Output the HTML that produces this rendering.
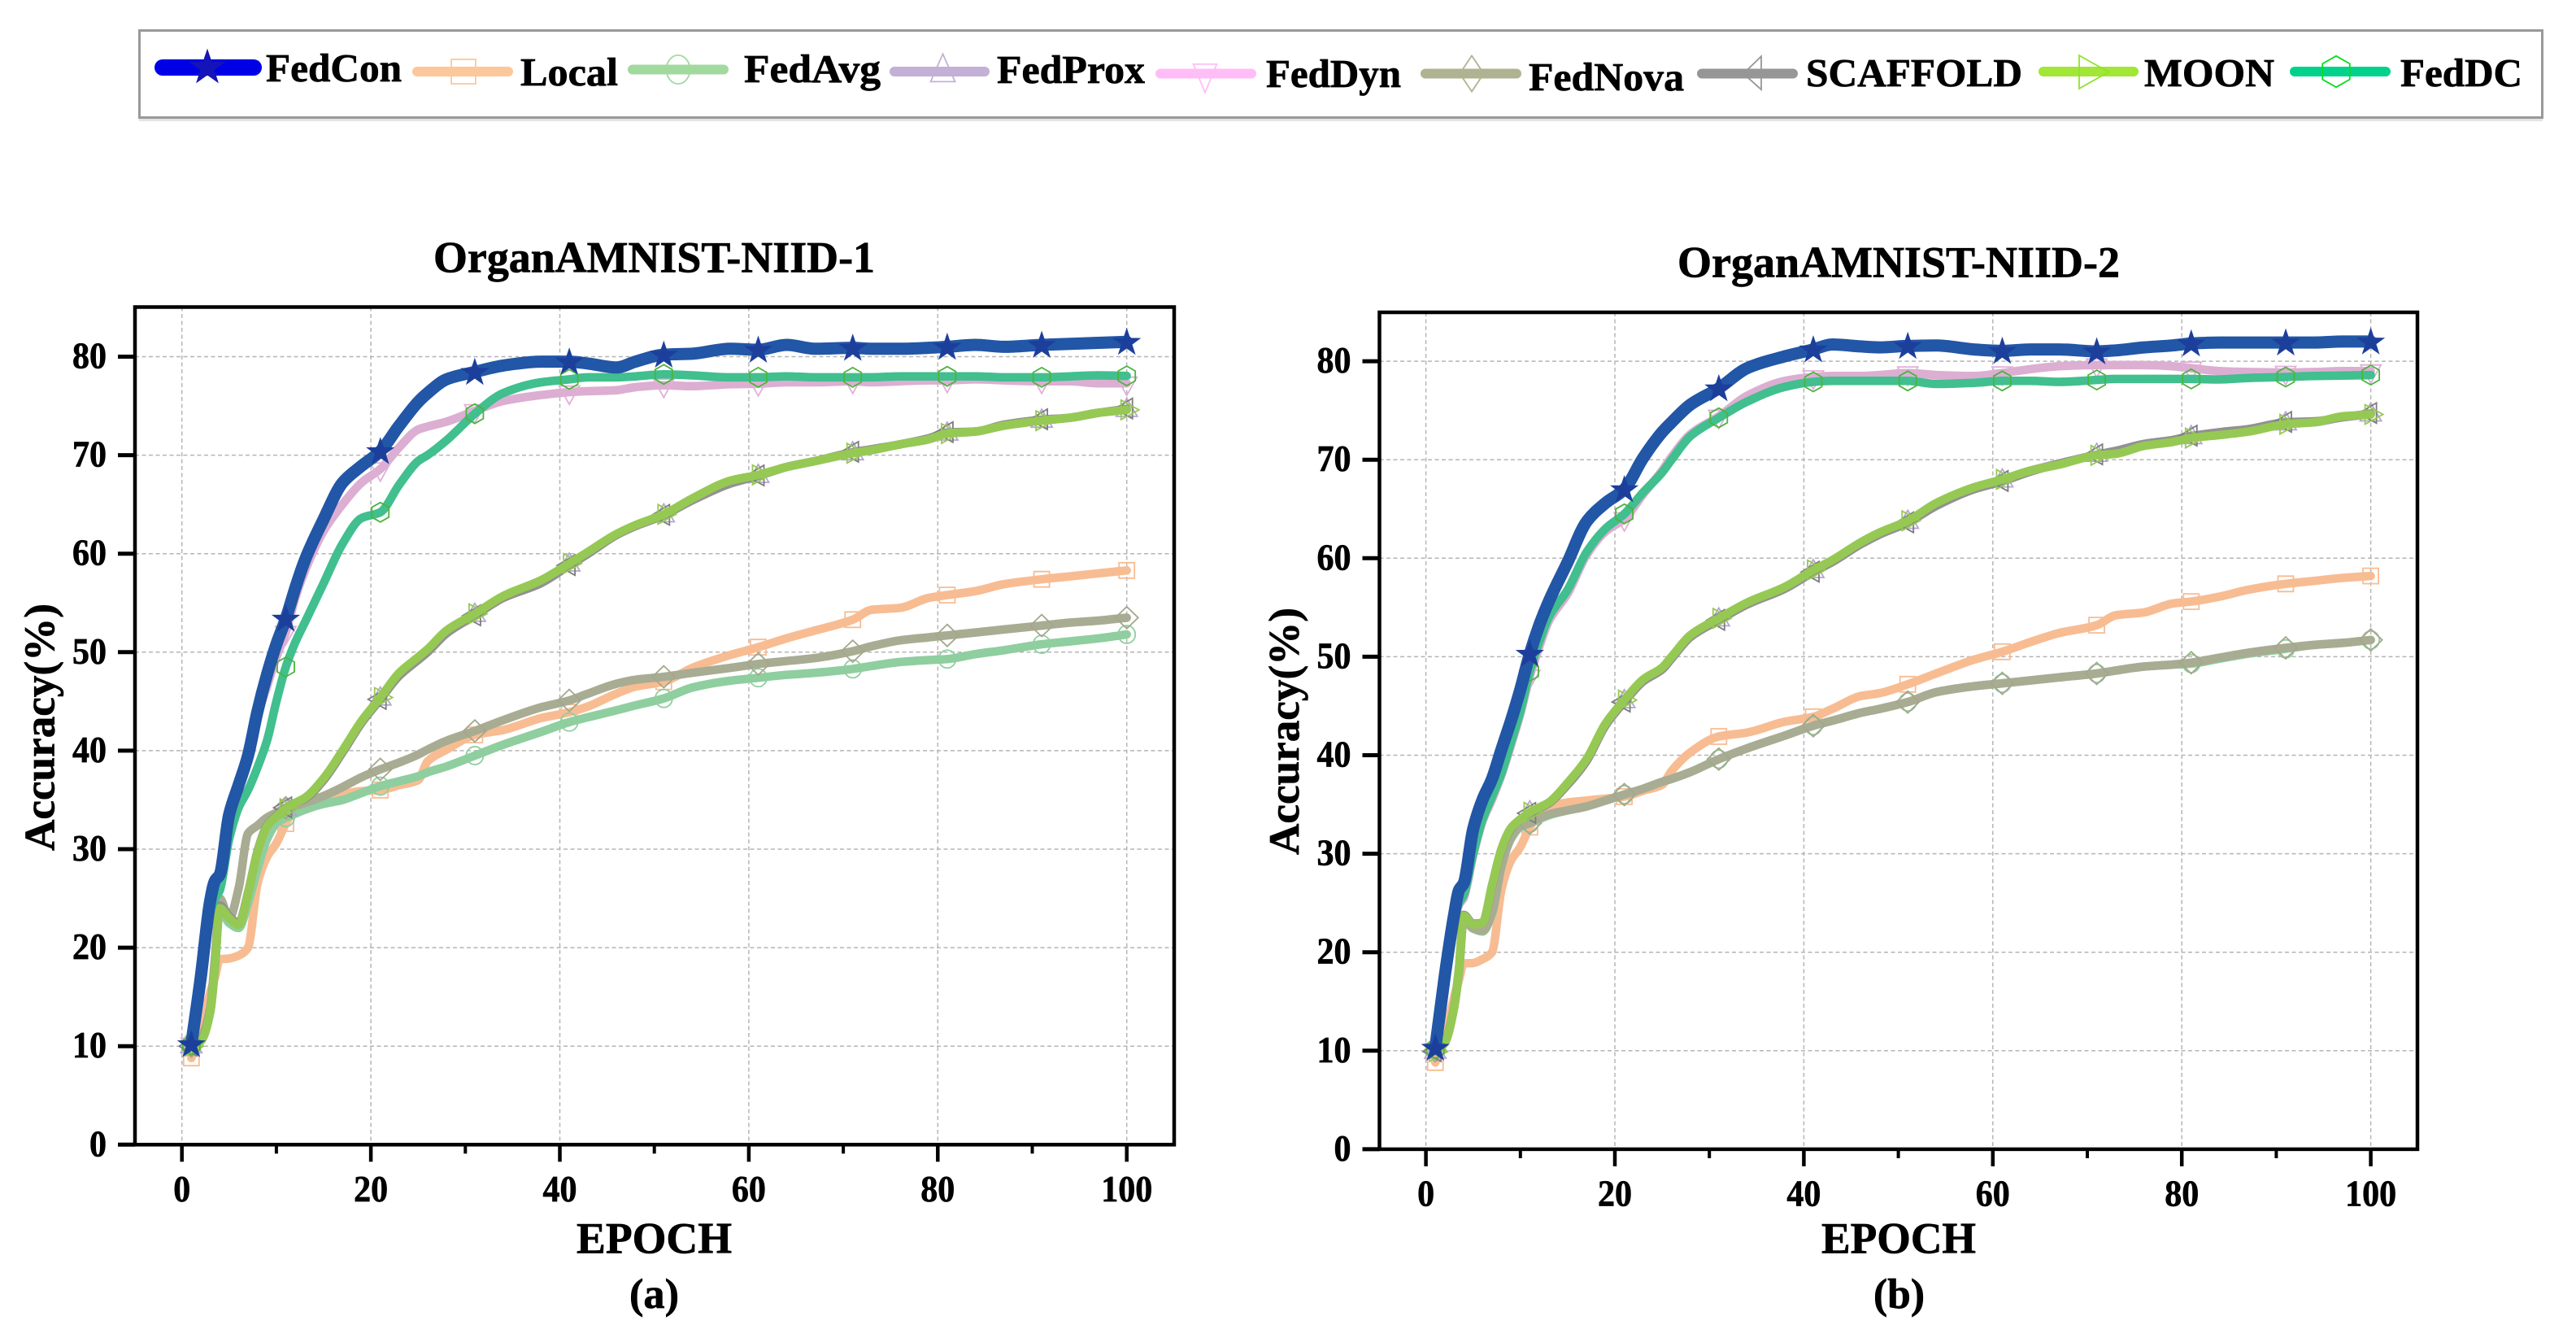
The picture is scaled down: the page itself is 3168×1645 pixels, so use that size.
<!DOCTYPE html>
<html lang="en">
<head>
<meta charset="utf-8">
<title>OrganAMNIST accuracy curves</title>
<style>
html,body{margin:0;padding:0;background:#fff;}
svg{display:block;}
text{font-family:"Liberation Serif",serif;font-weight:bold;fill:#000;stroke:#000;stroke-width:0.7px;}
</style>
</head>
<body>
<svg id="figure" xmlns="http://www.w3.org/2000/svg" width="3168" height="1645" viewBox="0 0 3168 1645">
  <rect x="0" y="0" width="3168" height="1645" fill="#fff"/>
  <g id="legend">
    <rect x="171" y="146" width="2956" height="3" fill="#e4e4e4"/>
    <rect x="171.5" y="37.5" width="2955" height="107" fill="#fff" stroke="#999" stroke-width="3"/>
    <line x1="200" y1="83" x2="312" y2="83" stroke="#0000e6" stroke-width="20" stroke-linecap="round"/>
    <line x1="513" y1="88" x2="625" y2="88" stroke="#fcc89b" stroke-width="12" stroke-linecap="round"/>
    <line x1="778" y1="85.5" x2="890" y2="85.5" stroke="#a1d99f" stroke-width="12" stroke-linecap="round"/>
    <line x1="1100" y1="88" x2="1211" y2="88" stroke="#c2b0d6" stroke-width="12" stroke-linecap="round"/>
    <line x1="1427" y1="90.5" x2="1539" y2="90.5" stroke="#ffbdf7" stroke-width="12" stroke-linecap="round"/>
    <line x1="1753" y1="90.5" x2="1865" y2="90.5" stroke="#b0b391" stroke-width="12" stroke-linecap="round"/>
    <line x1="2093" y1="90.5" x2="2205" y2="90.5" stroke="#969696" stroke-width="12" stroke-linecap="round"/>
    <line x1="2513" y1="88" x2="2624" y2="88" stroke="#a2e637" stroke-width="12" stroke-linecap="round"/>
    <line x1="2822" y1="88" x2="2934" y2="88" stroke="#00d28c" stroke-width="12" stroke-linecap="round"/>
    <text x="327" y="100" font-size="49" textLength="167" lengthAdjust="spacingAndGlyphs">FedCon</text>
    <text x="640" y="105" font-size="49" textLength="120" lengthAdjust="spacingAndGlyphs">Local</text>
    <text x="915" y="101" font-size="49" textLength="168" lengthAdjust="spacingAndGlyphs">FedAvg</text>
    <text x="1226" y="102" font-size="49" textLength="182" lengthAdjust="spacingAndGlyphs">FedProx</text>
    <text x="1557" y="107" font-size="49" textLength="166" lengthAdjust="spacingAndGlyphs">FedDyn</text>
    <text x="1880" y="111" font-size="49" textLength="191" lengthAdjust="spacingAndGlyphs">FedNova</text>
    <text x="2221" y="106" font-size="49" textLength="266" lengthAdjust="spacingAndGlyphs">SCAFFOLD</text>
    <text x="2637" y="106" font-size="49" textLength="160" lengthAdjust="spacingAndGlyphs">MOON</text>
    <text x="2952" y="106" font-size="49" textLength="150" lengthAdjust="spacingAndGlyphs">FedDC</text>
  </g>

  <text x="533" y="334.5" font-size="54" textLength="543" lengthAdjust="spacingAndGlyphs">OrganAMNIST-NIID-1</text>
  <text x="2063" y="340.5" font-size="54" textLength="544" lengthAdjust="spacingAndGlyphs">OrganAMNIST-NIID-2</text>

  <text transform="translate(66.7,1046) rotate(-90)" x="0" y="0" font-size="53" textLength="304" lengthAdjust="spacingAndGlyphs">Accuracy(%)</text>
  <text transform="translate(1597,1051) rotate(-90)" x="0" y="0" font-size="53" textLength="304" lengthAdjust="spacingAndGlyphs">Accuracy(%)</text>

  <text x="709" y="1540.5" font-size="54" textLength="191" lengthAdjust="spacingAndGlyphs">EPOCH</text>
  <text x="2240" y="1540.5" font-size="54" textLength="190" lengthAdjust="spacingAndGlyphs">EPOCH</text>

  <text x="774" y="1608" font-size="52" textLength="61" lengthAdjust="spacingAndGlyphs">(a)</text>
  <text x="2304" y="1608" font-size="52" textLength="63" lengthAdjust="spacingAndGlyphs">(b)</text>

  <g id="chart-a"></g>
  <g id="chart-b"></g>
</svg>

<script>
// Shared sampling of the training epochs
const epochs = [1,2,3,3.5,4,5,6,7,8,9,10,11,12,13,15,17,19,21,23,25,26,28,31,34,38,41,43,46,48,51,54,58,61,64,67,71,73,76,79,81,84,87,91,94,97,100];
const markerEpochs = [1,11,21,31,41,51,61,71,81,91,100];
const xTickLabels = [0,20,40,60,80,100];
const xMinorTicks = [10,30,50,70,90];
const yTickLabels = [0,10,20,30,40,50,60,70,80];

// Panel (a) OrganAMNIST-NIID-1
const aLocal = [8.8,11.5,15.5,17,18.8,18.9,19.2,20,26.5,29.2,30.6,32.6,34.2,35,35.3,35.6,35.9,36,36.5,37,38.9,40.1,41.6,42.1,43.3,43.9,44.5,45.8,46.5,47,48.4,49.7,50.5,51.4,52.2,53.3,54.3,54.5,55.5,55.8,56.2,56.9,57.4,57.7,58,58.3];
const aFedAvg = [10,10.5,13.5,18,23.8,22.5,22,24.5,28,31,32.6,33.2,33.6,34,34.6,35,35.7,36.4,36.9,37.4,37.8,38.4,39.5,40.6,41.9,42.9,43.4,44.1,44.6,45.3,46.4,47.1,47.4,47.7,47.9,48.3,48.6,49,49.2,49.3,49.8,50.2,50.8,51.1,51.4,51.8];
const aFedProx = [10,10.5,13.5,18,24,23,22.4,25.5,29.7,32.3,33.3,34.1,34.6,35.1,37.1,39.9,42.9,45.3,47.7,49.3,50.1,52,53.8,55.6,57.1,58.9,60.1,61.9,62.8,63.9,65.5,67.2,67.9,68.8,69.4,70.2,70.5,71.1,71.6,72.2,72.4,73,73.5,73.8,74.3,74.6];
const aFedDyn = [10.2,16.8,24.5,26.5,27,33.3,36,39,43.5,46.5,49.5,52,55.5,58.2,62.3,65,67.2,68.6,70.8,72.6,72.9,73.4,74.5,75.5,76.1,76.4,76.5,76.6,76.9,77.1,77,77.2,77.25,77.4,77.4,77.5,77.4,77.5,77.6,77.6,77.7,77.6,77.5,77.5,77.3,77.3];
const aFedNova = [10,10.8,14,19,25,23,26,31.6,32.4,33.2,33.7,34.2,34.4,34.7,35.4,36.3,37.3,38.1,38.8,39.6,40.1,41,42,43.1,44.4,45.1,45.8,46.8,47.2,47.5,47.9,48.4,48.8,49.1,49.4,50.1,50.6,51.2,51.5,51.7,52,52.3,52.7,53,53.2,53.5];
const aScaffold = [10,10.6,13.6,18.2,24.3,23.2,22.5,25.6,29.8,32.4,33.4,34.2,34.7,35.1,37,39.8,42.8,45.2,47.6,49.2,50,51.9,53.7,55.5,57,58.8,60,61.9,62.8,63.9,65.4,67.1,67.9,68.8,69.4,70.3,70.6,71.1,71.7,72.3,72.4,73.1,73.6,73.8,74.3,74.7];
const aMoon = [10,10.5,13.5,18,24,23,22.3,25.5,29.7,32.3,33.3,34.1,34.7,35.2,37.2,40,43,45.4,47.9,49.5,50.3,52.2,53.9,55.7,57.3,59,60.2,62,62.9,64,65.6,67.4,68,68.8,69.4,70.2,70.5,71.1,71.6,72.2,72.4,73,73.5,73.8,74.3,74.6];
const aFedDC = [10.1,16,23.5,25,25.8,31,34.2,36,38.3,41,45,48.5,51,53,57,61,63.6,64.2,67,69.4,70,71.5,74.2,76.3,77.4,77.7,77.9,77.9,78,78.2,78.1,77.9,77.9,78,77.9,77.9,77.9,78,78,78,78,77.9,77.9,78,78.1,78.05];
const aFedCon = [10.2,17,24.8,26.8,27.4,33.5,36.5,39.5,44,47.7,50.8,53.4,56.5,59.3,63.5,67.2,68.9,70.4,73,75.4,76.3,77.7,78.45,79.1,79.5,79.5,79.3,78.9,79.5,80.2,80.3,80.8,80.7,81.2,80.8,80.9,80.8,80.8,80.9,81,81.2,81,81.2,81.3,81.4,81.5];

// Panel (b) OrganAMNIST-NIID-2
const bLocal = [8.8,11.5,15.5,17.2,18.85,18.9,19.3,20,26.4,29.3,30.7,32.7,34,34.8,35.2,35.4,35.6,35.8,36.4,37,38.4,40.3,41.9,42.3,43.4,43.9,44.7,46,46.3,47.2,48.3,49.7,50.5,51.5,52.4,53.2,54.2,54.5,55.4,55.6,56.1,56.8,57.4,57.7,58,58.2];
const bFedAvg = [10,10.8,14.5,18,23.3,22.4,22.1,23.9,28.7,31.5,32.7,33.1,33.5,33.9,34.4,34.8,35.4,36,36.6,37.3,37.6,38.3,39.6,40.7,42,43,43.5,44.3,44.7,45.4,46.4,47,47.3,47.6,47.9,48.3,48.6,49,49.2,49.3,49.8,50.3,50.8,51.2,51.4,51.7];
const bFedProx = [9.9,10.8,14.5,18.3,23.7,22.8,23,26.8,30.5,32.6,33.5,34.2,34.6,35.1,37.1,39.5,43.1,45.5,47.6,48.8,49.9,52.1,53.8,55.4,57,58.7,59.7,61.5,62.5,63.7,65.5,67.1,67.9,68.9,69.6,70.5,70.8,71.5,71.9,72.3,72.7,73,73.7,73.8,74.3,74.6];
const bFedDyn = [10.1,16.8,23,24.8,25.5,29.8,33.3,35.5,38,41,44.2,48,51,53.6,56.4,60.3,62.7,64,66.5,68.9,70.3,72.6,74.4,76.5,78,78.4,78.5,78.5,78.6,78.8,78.6,78.5,78.8,79.2,79.5,79.6,79.6,79.6,79.5,79.3,79,78.9,78.85,78.9,79,79];
const bFedNova = [10,10.8,14.5,18,23.3,22.4,22.2,24,28.8,31.6,32.8,33.1,33.6,34,34.4,34.8,35.4,36,36.6,37.3,37.6,38.3,39.6,40.7,42,43,43.5,44.3,44.7,45.4,46.4,47,47.3,47.6,47.9,48.3,48.6,49,49.2,49.4,49.9,50.4,50.9,51.2,51.4,51.7];
const bScaffold = [9.9,10.9,14.6,18.4,23.8,22.9,23,26.7,30.4,32.5,33.5,34.1,34.6,35.1,37,39.4,43,45.4,47.5,48.7,49.8,52,53.7,55.3,56.9,58.6,59.6,61.4,62.4,63.6,65.3,67,67.8,68.8,69.6,70.5,70.9,71.6,72,72.4,72.8,73.1,73.8,73.9,74.3,74.7];
const bMoon = [9.9,10.8,14.5,18.3,23.7,22.8,23,26.8,30.5,32.6,33.5,34.2,34.7,35.2,37.2,39.6,43.2,45.6,47.7,48.9,50,52.2,53.9,55.5,57.1,58.8,59.8,61.6,62.6,63.8,65.6,67.2,68,68.9,69.5,70.45,70.6,71.4,71.8,72.2,72.5,72.85,73.6,73.8,74.4,74.6];
const bFedDC = [10.2,17,23.3,25,25.8,30,33.5,35.8,38.2,41.3,44.5,48.5,51.5,54,56.8,60.6,63,64.5,66.7,68.7,70,72.4,74.25,75.9,77.4,77.9,78,78,78,78,77.7,77.8,78,78,77.9,78.1,78.2,78.2,78.2,78.2,78.15,78.3,78.4,78.5,78.55,78.6];
const bFedCon = [10.3,17.6,23.9,26.3,27,32.5,35.5,37.6,40.6,43.5,46.7,50.3,53.2,55.6,59.6,63.7,65.6,67,70.2,72.8,73.8,75.6,77.25,79.3,80.5,81.2,81.7,81.5,81.4,81.55,81.6,81.2,81.05,81.2,81.2,81,81.1,81.4,81.6,81.8,81.9,81.9,81.9,81.9,82,82];

const seriesNames = ["local","fedavg","fedprox","feddyn","fednova","scaffold","moon","feddc","fedcon"];
const seriesA = [aLocal,aFedAvg,aFedProx,aFedDyn,aFedNova,aScaffold,aMoon,aFedDC,aFedCon];
const seriesB = [bLocal,bFedAvg,bFedProx,bFedDyn,bFedNova,bScaffold,bMoon,bFedDC,bFedCon];

const lineColors = {local:"#f8bc92",fedavg:"#8fce9f",fedprox:"#b9a9d2",feddyn:"#dcaed2",fednova:"#a8ac92",scaffold:"#919191",moon:"#96c953",feddc:"#41bf8e",fedcon:"#2256a6"};
const markerColors = {local:"#f8bc92",fedavg:"#8fce9f",fedprox:"#b5a5d4",feddyn:"#e0b0d8",fednova:"#a4a78c",scaffold:"#7d7d7d",moon:"#96c953",feddc:"#4db33d",fedcon:"#1c3f9c"};
const lineWidths = {local:10.5,fedavg:10.5,fedprox:10.5,feddyn:10.5,fednova:10.5,scaffold:10.5,moon:10.5,feddc:10.5,fedcon:15};

const SVGNS = "http://www.w3.org/2000/svg";

function make(tag, attrs, parent){
  const el = document.createElementNS(SVGNS, tag);
  for (const k in attrs) el.setAttribute(k, attrs[k]);
  parent.appendChild(el);
  return el;
}

function shapePoints(kind){
  if (kind === "fedcon"){
    const pts = [];
    for (let i = 0; i < 10; i++){
      const r = i % 2 === 0 ? 18.5 : 7.2;
      const a = -Math.PI / 2 + i * Math.PI / 5;
      pts.push([r * Math.cos(a), r * Math.sin(a) + 1]);
    }
    return pts;
  }
  if (kind === "local") return [[-9.5,-9.5],[9.5,-9.5],[9.5,9.5],[-9.5,9.5]];
  if (kind === "fedprox") return [[0,-14],[13,8],[-13,8]];
  if (kind === "feddyn") return [[-12.5,-7.5],[12.5,-7.5],[0,15]];
  if (kind === "fednova") return [[0,-13.5],[14,0],[0,13.5],[-14,0]];
  if (kind === "scaffold") return [[7,-13],[7,12],[-15,0]];
  if (kind === "moon") return [[-7,-12],[15,0],[-7,12]];
  if (kind === "feddc") return [[0,-12],[10.5,-6],[10.5,6],[0,12],[-10.5,6],[-10.5,-6]];
  return null;
}

function drawMarker(parent, kind, cx, cy, sx, sy, color, name){
  let el;
  if (kind === "fedavg"){
    el = make("ellipse", {cx:cx, cy:cy, rx:10.5*sx, ry:11*sy, fill:"none", stroke:color, "stroke-width":1.8}, parent);
  } else {
    const pts = shapePoints(kind).map(function(p){ return (cx + p[0]*sx).toFixed(1) + "," + (cy + p[1]*sy).toFixed(1); }).join(" ");
    el = make("polygon", {points:pts, fill: kind === "fedcon" ? color : "none", stroke: kind === "fedcon" ? "none" : color, "stroke-width":1.8}, parent);
  }
  
  
  return el;
}

// Monotone cubic path through the data points, so curves stay smooth without overshoot.
function monotonePath(xs, ys){
  const n = xs.length;
  const d = [];
  for (let i = 0; i < n - 1; i++) d.push((ys[i+1] - ys[i]) / (xs[i+1] - xs[i]));
  const m = [d[0]];
  for (let i = 1; i < n - 1; i++){
    if (d[i-1] * d[i] <= 0) { m.push(0); continue; }
    const h0 = xs[i] - xs[i-1], h1 = xs[i+1] - xs[i];
    const w1 = 2*h1 + h0, w2 = h1 + 2*h0;
    m.push((w1 + w2) / (w1 / d[i-1] + w2 / d[i]));
  }
  m.push(d[n-2]);
  let path = "M" + xs[0].toFixed(1) + "," + ys[0].toFixed(1);
  for (let i = 0; i < n - 1; i++){
    const h = (xs[i+1] - xs[i]) / 3;
    path += "C" + (xs[i]+h).toFixed(1) + "," + (ys[i]+m[i]*h).toFixed(1) + " " +
            (xs[i+1]-h).toFixed(1) + "," + (ys[i+1]-m[i+1]*h).toFixed(1) + " " +
            xs[i+1].toFixed(1) + "," + ys[i+1].toFixed(1);
  }
  return path;
}

function drawChart(id, frame, series){
  const root = document.getElementById(id);
  const xScale = function(v){ return frame.x0 + frame.xUnit * v; };
  const yScale = function(v){ return frame.y0 - frame.yUnit * v; };

  const grid = make("g", {}, root);
  
  
  xTickLabels.forEach(function(v){
    const g = make("line", {x1:xScale(v), x2:xScale(v), y1:frame.top, y2:frame.y0, stroke:"#b5b5b5", "stroke-width":1.5, "stroke-dasharray":"5 3.5"}, grid);
    
    
  });
  yTickLabels.forEach(function(v){
    if (v === 0) return;
    const g = make("line", {x1:frame.left, x2:frame.right, y1:yScale(v), y2:yScale(v), stroke:"#b5b5b5", "stroke-width":1.5, "stroke-dasharray":"5 3.5"}, grid);
    
    
  });

  seriesNames.forEach(function(name, i){
    const values = series[i];
    const group = make("g", {}, root);
    
    
    const d = monotonePath(epochs.map(xScale), values.map(yScale));
    const line = make("path", {d:d, fill:"none", stroke:lineColors[name], "stroke-width":lineWidths[name], "stroke-linejoin":"round", "stroke-linecap":"round"}, group);
    
    
    markerEpochs.forEach(function(e){
      const k = epochs.indexOf(e);
      drawMarker(group, name, xScale(e), yScale(values[k]), 1, 1, markerColors[name], 'marker-' + name);
    });
  });

  const axes = make("g", {}, root);
  
  
  const box = make("rect", {x:frame.left, y:frame.top, width:frame.right-frame.left, height:frame.y0-frame.top, fill:"none", stroke:"#000", "stroke-width":4.5}, axes);
  
  

  yTickLabels.forEach(function(v){
    const t = make("line", {x1:frame.left-21, x2:frame.left, y1:yScale(v), y2:yScale(v), stroke:"#000", "stroke-width":5}, axes);
    
    
    const s = String(v);
    const label = make("text", {x:frame.left-35-s.length*21, y:yScale(v)+14, "font-size":46, textLength:s.length*21, lengthAdjust:"spacingAndGlyphs"}, axes);
    label.textContent = s;
    
    
  });
  xTickLabels.forEach(function(v){
    const t = make("line", {x1:xScale(v), x2:xScale(v), y1:frame.y0, y2:frame.y0+21, stroke:"#000", "stroke-width":4.5}, axes);
    
    
    const s = String(v);
    const w = s.length*21;
    const label = make("text", {x:xScale(v)-w/2, y:frame.y0+69.5, "font-size":46, textLength:w, lengthAdjust:"spacingAndGlyphs"}, axes);
    label.textContent = s;
    
    
  });
  xMinorTicks.forEach(function(v){
    const t = make("line", {x1:xScale(v), x2:xScale(v), y1:frame.y0, y2:frame.y0+11, stroke:"#000", "stroke-width":4}, axes);
    
    
  });
}

drawChart("chart-a", {left:166, right:1444, top:377.5, y0:1407.3, x0:223.7, xUnit:11.62, yUnit:12.11}, seriesA);
drawChart("chart-b", {left:1696.5, right:2973, top:384, y0:1412.9, x0:1753.6, xUnit:11.62, yUnit:12.11}, seriesB);

const legend = document.getElementById("legend");
drawMarker(legend, "fedcon", 255, 82, 1.28, 1.28, "#1414b8", "legend-marker-fedcon");
drawMarker(legend, "local", 570, 88, 1.58, 1.58, "#fcc89b", "legend-marker-local");
drawMarker(legend, "fedavg", 834, 85.5, 1.38, 1.6, "#a1d99f", "legend-marker-fedavg");
drawMarker(legend, "fedprox", 1159.5, 88, 1.15, 1.55, "#c2b0d6", "legend-marker-fedprox");
drawMarker(legend, "feddyn", 1482, 90.5, 1.15, 1.55, "#ffbdf7", "legend-marker-feddyn");
drawMarker(legend, "fednova", 1810, 90.5, 1.05, 1.63, "#b0b391", "legend-marker-fednova");
drawMarker(legend, "scaffold", 2159, 90.5, 1.0, 1.63, "#969696", "legend-marker-scaffold");
drawMarker(legend, "moon", 2568.5, 88.5, 1.64, 1.7, "#8fe32a", "legend-marker-moon");
drawMarker(legend, "feddc", 2873, 88, 1.6, 1.6, "#00e020", "legend-marker-feddc");
</script>
</body>
</html>
